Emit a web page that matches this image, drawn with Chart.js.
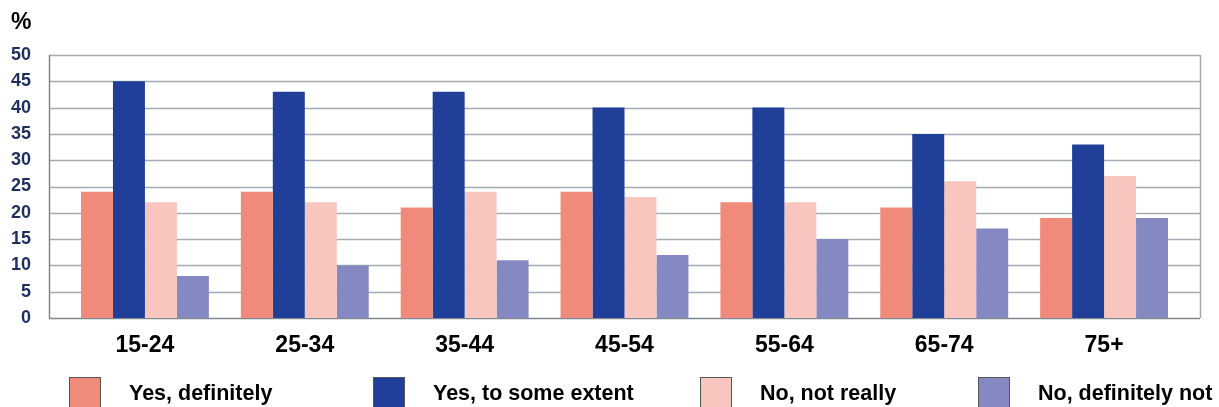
<!DOCTYPE html>
<html>
<head>
<meta charset="utf-8">
<script src="https://cdn.jsdelivr.net/npm/chart.js@4"></script>
<style>
  html, body { margin: 0; padding: 0; background: #fff; }
  #wrap { position: relative; width: 1219px; height: 407px; overflow: hidden; font-family: "Liberation Sans", Arial, sans-serif; }
  #pct { position: absolute; left: 11px; top: 8px; font-size: 23px; font-weight: bold; color: #000; }
  .leg { position: absolute; top: 377px; height: 40px; }
  .leg .box { position: absolute; left: 0; top: 0; width: 32px; height: 36px; border: 1px solid #555; box-sizing: border-box; }
  .leg .txt { position: absolute; left: 60px; top: 4px; white-space: nowrap; font-size: 21.5px; font-weight: bold; color: #000; }
</style>
</head>
<body>
<div id="wrap">
  <canvas id="myChart" width="1219" height="407"></canvas>
  <div id="pct">%</div>
  <div id="legend"></div>
</div>
<script>
// Données
const ageGroups = ["15-24", "25-34", "35-44", "45-54", "55-64", "65-74", "75+"];
const yesDefinitely = [24, 24, 21, 24, 22, 21, 19];
const yesSomeExtent = [45, 43, 43, 40, 40, 35, 33];
const noNotReally = [22, 22, 24, 23, 22, 26, 27];
const noDefinitelyNot = [8, 10, 11, 12, 15, 17, 19];
const yTicks = [0, 5, 10, 15, 20, 25, 30, 35, 40, 45, 50];

const seriesNames = ["Yes, definitely", "Yes, to some extent", "No, not really", "No, definitely not"];
const seriesColors = ["#f08b7b", "#1f3f98", "#f8c6bf", "#8489c1"];
const seriesValues = [yesDefinitely, yesSomeExtent, noNotReally, noDefinitelyNot];

const chartData = {
  labels: ageGroups,
  datasets: [],
};
for (let i = 0; i < seriesNames.length; i++) {
  chartData.datasets.push({
    label: seriesNames[i],
    data: seriesValues[i],
    backgroundColor: seriesColors[i],
    borderWidth: 0,
    barPercentage: 1.0,
    categoryPercentage: 0.8,
  });
}

// Grille dessinée un peu plus large que la zone des barres, comme dans l'original
const gridPlugin = {
  id: "wideGrid",
  beforeDatasetsDraw(chart) {
    const { ctx, chartArea, scales } = chart;
    const left = chartArea.left - 16;
    const right = chartArea.right + 16;
    ctx.save();
    ctx.lineWidth = 1.5;
    yTicks.forEach((v) => {
      const y = Math.round(scales.y.getPixelForValue(v)) + 0.5;
      ctx.strokeStyle = v === 0 ? "#7f8790" : "#a3abb3";
      ctx.beginPath();
      ctx.moveTo(left, y);
      ctx.lineTo(right, y);
      ctx.stroke();
    });
    const top = scales.y.getPixelForValue(50);
    const bottom = scales.y.getPixelForValue(0);
    ctx.strokeStyle = "#7f8790";
    ctx.beginPath();
    ctx.moveTo(left + 0.5, top);
    ctx.lineTo(left + 0.5, bottom);
    ctx.stroke();
    ctx.strokeStyle = "#a3abb3";
    ctx.beginPath();
    ctx.moveTo(right + 0.5, top);
    ctx.lineTo(right + 0.5, bottom);
    ctx.stroke();
    ctx.restore();
  },
};

const ctx = document.getElementById("myChart").getContext("2d");
const chart = new Chart(ctx, {
  type: "bar",
  data: chartData,
  plugins: [gridPlugin],
  options: {
    responsive: false,
    animation: false,
    layout: { padding: { left: 0, right: 35, top: 55, bottom: 0 } },
    plugins: {
      legend: { display: false },
      tooltip: { enabled: false },
    },
    scales: {
      x: {
        grid: { display: false, drawTicks: false },
        border: { display: false },
        ticks: {
          color: "#000",
          padding: 14,
          font: { family: "Liberation Sans", size: 23, weight: "bold" },
        },
        afterFit(scale) { scale.height = 89; },
      },
      y: {
        min: 0,
        max: 50,
        grid: { display: false, drawTicks: false },
        border: { display: false },
        afterBuildTicks(scale) { scale.ticks = yTicks.map((v) => ({ value: v })); },
        ticks: {
          color: "#1c2f5e",
          padding: 34,
          font: { family: "Liberation Sans", size: 18, weight: "bold" },
        },
        afterFit(scale) { scale.width = 65; },
      },
    },
  },
});

// Légende en HTML à partir des jeux de données
const legendLeft = [69, 373, 700, 978];
const legendEl = document.getElementById("legend");
chart.data.datasets.forEach((ds, i) => {
  const item = document.createElement("div");
  item.className = "leg";
  item.style.left = legendLeft[i] + "px";
  item.innerHTML = '<div class="box" style="background:' + ds.backgroundColor + '"></div>' +
    '<div class="txt">' + ds.label + "</div>";
  legendEl.appendChild(item);
});
</script>
</body>
</html>
